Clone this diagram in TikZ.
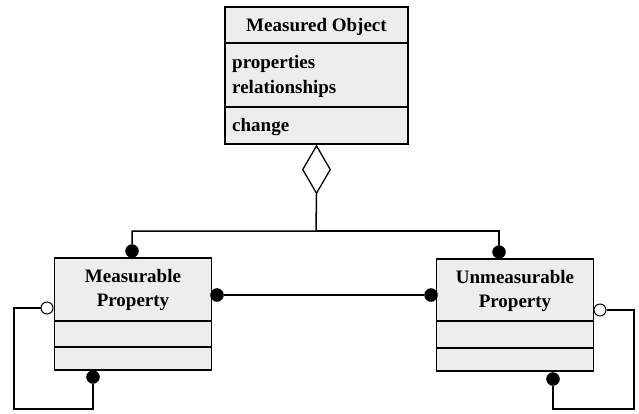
\documentclass[tikz,border=0pt]{standalone}
\usepackage{fontspec}
\setmainfont{Liberation Serif}
\usepackage{tikz}
\usetikzlibrary{calc, shapes, positioning}
\tikzset{
    classnode/.style = {draw, rectangle, fill=gray!14, line width=1.8pt, inner sep=0pt, minimum width=157pt, minimum height=112pt},
    textnode/.style  = {draw=none, fill=none, rectangle, inner sep=0pt, font=\fontsize{19}{24}\selectfont\bfseries},
    dotnode/.style = {draw, fill=black, circle, minimum size=13pt, inner sep=0pt},
    opendotnode/.style = {draw, fill=white, circle, minimum size=12pt, inner sep=0pt, line width=1pt},
    diamondnode/.style = {draw, diamond, fill=white, minimum width=28pt, minimum height=48pt, inner sep=0pt, line width=1.3pt},
    connect/.style = {black, line width=1.5pt},
    divider/.style = {black, line width=1.3pt},
    every text node part/.style={align=center}
}

\begin{document}
\begin{tikzpicture}[x=1pt, y=-1pt]
\useasboundingbox (0,0) rectangle (639,413);

% Measured Object
\node [classnode, name=obj, minimum width=183pt, minimum height=137pt] at (316.5,75.5) {};
\draw [divider] (obj.west |- 0,43) -- (obj.east |- 0,43);
\draw [divider] (obj.west |- 0,107) -- (obj.east |- 0,107);
\node [textnode, name=objtitle] at (316.5,27) {Measured Object};
\node [textnode, name=props, anchor=west] at (232,64) {properties};
\node [textnode, name=rels, anchor=west] at (232,89) {relationships};
\node [textnode, name=chg, anchor=west] at (232,127) {change};

% Measurable / Unmeasurable
\node [classnode, name=mp] at (133,314) {};
\draw [divider] (mp.west |- 0,321) -- (mp.east |- 0,321);
\draw [divider] (mp.west |- 0,347) -- (mp.east |- 0,347);
\node [textnode, name=mptitle] at (133,290) {Measurable\\Property};

\node [classnode, name=up] at (515,315) {};
\draw [divider] (up.west |- 0,321) -- (up.east |- 0,321);
\draw [divider] (up.west |- 0,348) -- (up.east |- 0,348);
\node [textnode, name=uptitle] at (515,291) {Unmeasurable\\Property};

% aggregation
\node [diamondnode, name=agg, anchor=north] at (obj.south) {};
\coordinate (bus) at (316,231);
\node [dotnode, name=d1] at (132,251) {};
\node [dotnode, name=d2] at (499,252) {};
\draw [connect] (agg.south) -- (bus) -| (d1);
\draw [connect] (bus) -| (d2);

% association between properties
\node [dotnode, name=d3] at (217,295) {};
\node [dotnode, name=d4] at (431,295) {};
\draw [connect] (d3) -- (d4);

% self loops
\node [opendotnode, name=o1] at (47,308) {};
\node [dotnode, name=d5] at (93,377) {};
\coordinate (l1) at (14,409);
\draw [connect] (o1.west) -| (l1) -| (d5.south);

\node [opendotnode, name=o2] at (600,310) {};
\node [dotnode, name=d6] at (553,379) {};
\coordinate (r1) at (634,409);
\draw [connect] (o2.east) -| (r1) -| (d6.south);

\end{tikzpicture}
\end{document}
